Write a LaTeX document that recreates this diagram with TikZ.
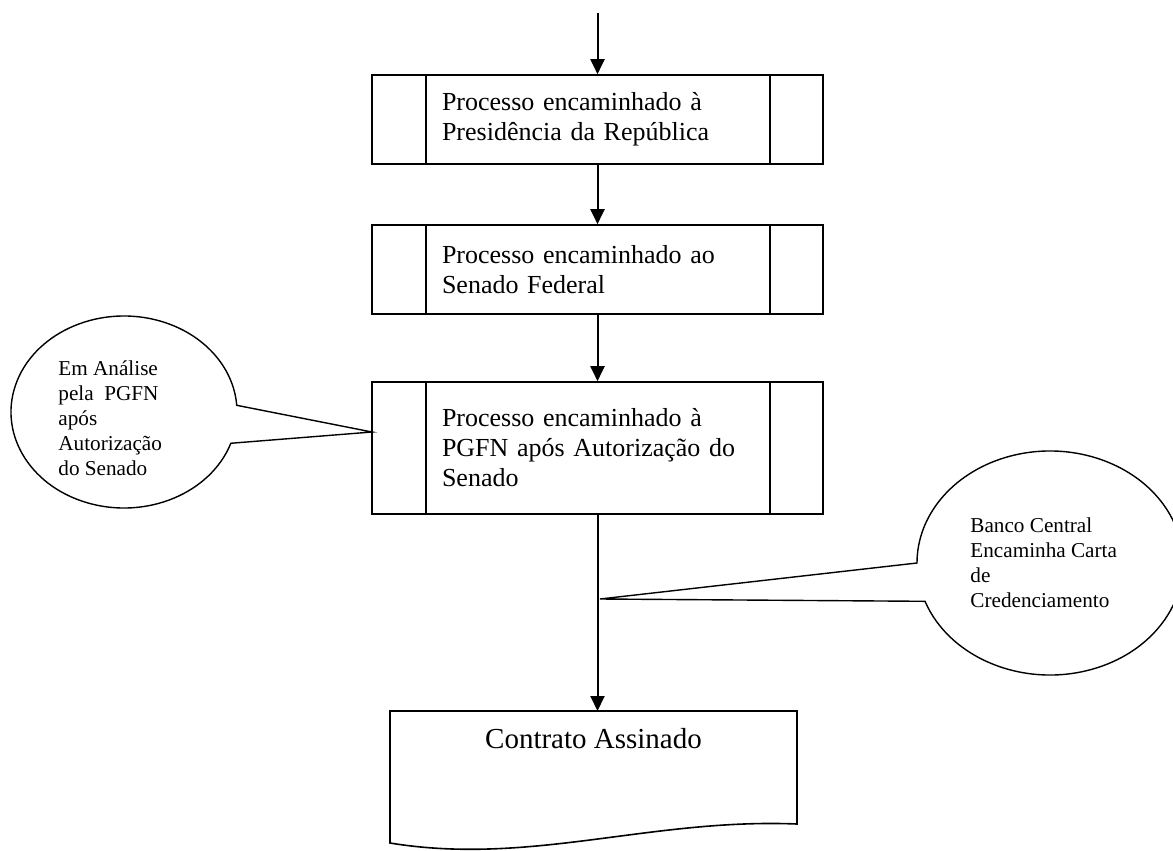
\documentclass[tikz,border=0pt]{standalone}
\usepackage{fontspec}
\setmainfont{Liberation Serif}
\usetikzlibrary{arrows.meta,calc,positioning}

\tikzset{
  procbox/.style={draw, line width=0.8pt, minimum width=225.5pt, text width=155.5pt,
    align=left, inner xsep=0pt, font=\fontsize{13}{15}\selectfont},
  flow/.style={line width=1pt, -{Triangle[length=7.5pt,width=7pt]}},
  callout/.style={draw, fill=white, line width=0.7pt},
  calltext/.style={align=left, anchor=west, inner sep=0pt, font=\fontsize{10.6}{12.5}\selectfont},
}

\begin{document}
\begin{tikzpicture}[x=0.5pt, y=-0.5pt]
    \useasboundingbox (0,0) rectangle (1173,851);

    % Callouts
    \coordinate (cL) at (124,412);
    \coordinate (tipL) at (372,432);
    \draw[callout] (tipL) -- ($(cL)+(19:113 and 96)$)
        arc[start angle=19, end angle=356, x radius=113, y radius=96] -- cycle;
    \node[calltext] (analise) at (58,418) {Em Análise\\pela\ \ PGFN\\após\\Autorização\\do Senado};

    \coordinate (cR) at (1050,563);
    \coordinate (tipR) at (600,599);
    \draw[callout] (tipR) -- ($(cR)+(160:133 and 112)$)
        arc[start angle=160, end angle=-180, x radius=133, y radius=112] -- cycle;
    \node[calltext] (banco) at (970,562.5) {Banco Central\\Encaminha Carta\\de\\Credenciamento};

    % Process boxes
    \node[procbox, minimum height=44.5pt] (pres) at (597.5,119.5) {Processo encaminhado à\\Presidência da República};
    \node[procbox, minimum height=44.5pt] (senado) at (597.5,269.5) {Processo encaminhado ao\\Senado Federal};
    \node[procbox, minimum height=66pt] (pgfn) at (597.5,448) {Processo encaminhado à\\PGFN após Autorização do\\Senado};

    \foreach \b in {pres,senado,pgfn} {
        \draw[line width=0.8pt] ($(\b.north west)+(55,0)$) -- ($(\b.south west)+(55,0)$);
        \draw[line width=0.8pt] ($(\b.north east)+(-54,0)$) -- ($(\b.south east)+(-54,0)$);
    }

    % Document
    \coordinate (docTop) at (597.5,711);
    \draw[line width=0.8pt] (390,711) -- (797,711) -- (797,824)
        .. controls (650,818) and (530,866) .. (390,843) -- cycle;
    \node[font=\fontsize{14.5}{17}\selectfont] (contrato) at (593.5,739) {Contrato Assinado};

    % Flow
    \coordinate (start) at (597.5,13);
    \draw[flow] (start) -- (pres);
    \draw[flow] (pres) -- (senado);
    \draw[flow] (senado) -- (pgfn);
    \draw[flow] (pgfn) -- (docTop);
\end{tikzpicture}
\end{document}
